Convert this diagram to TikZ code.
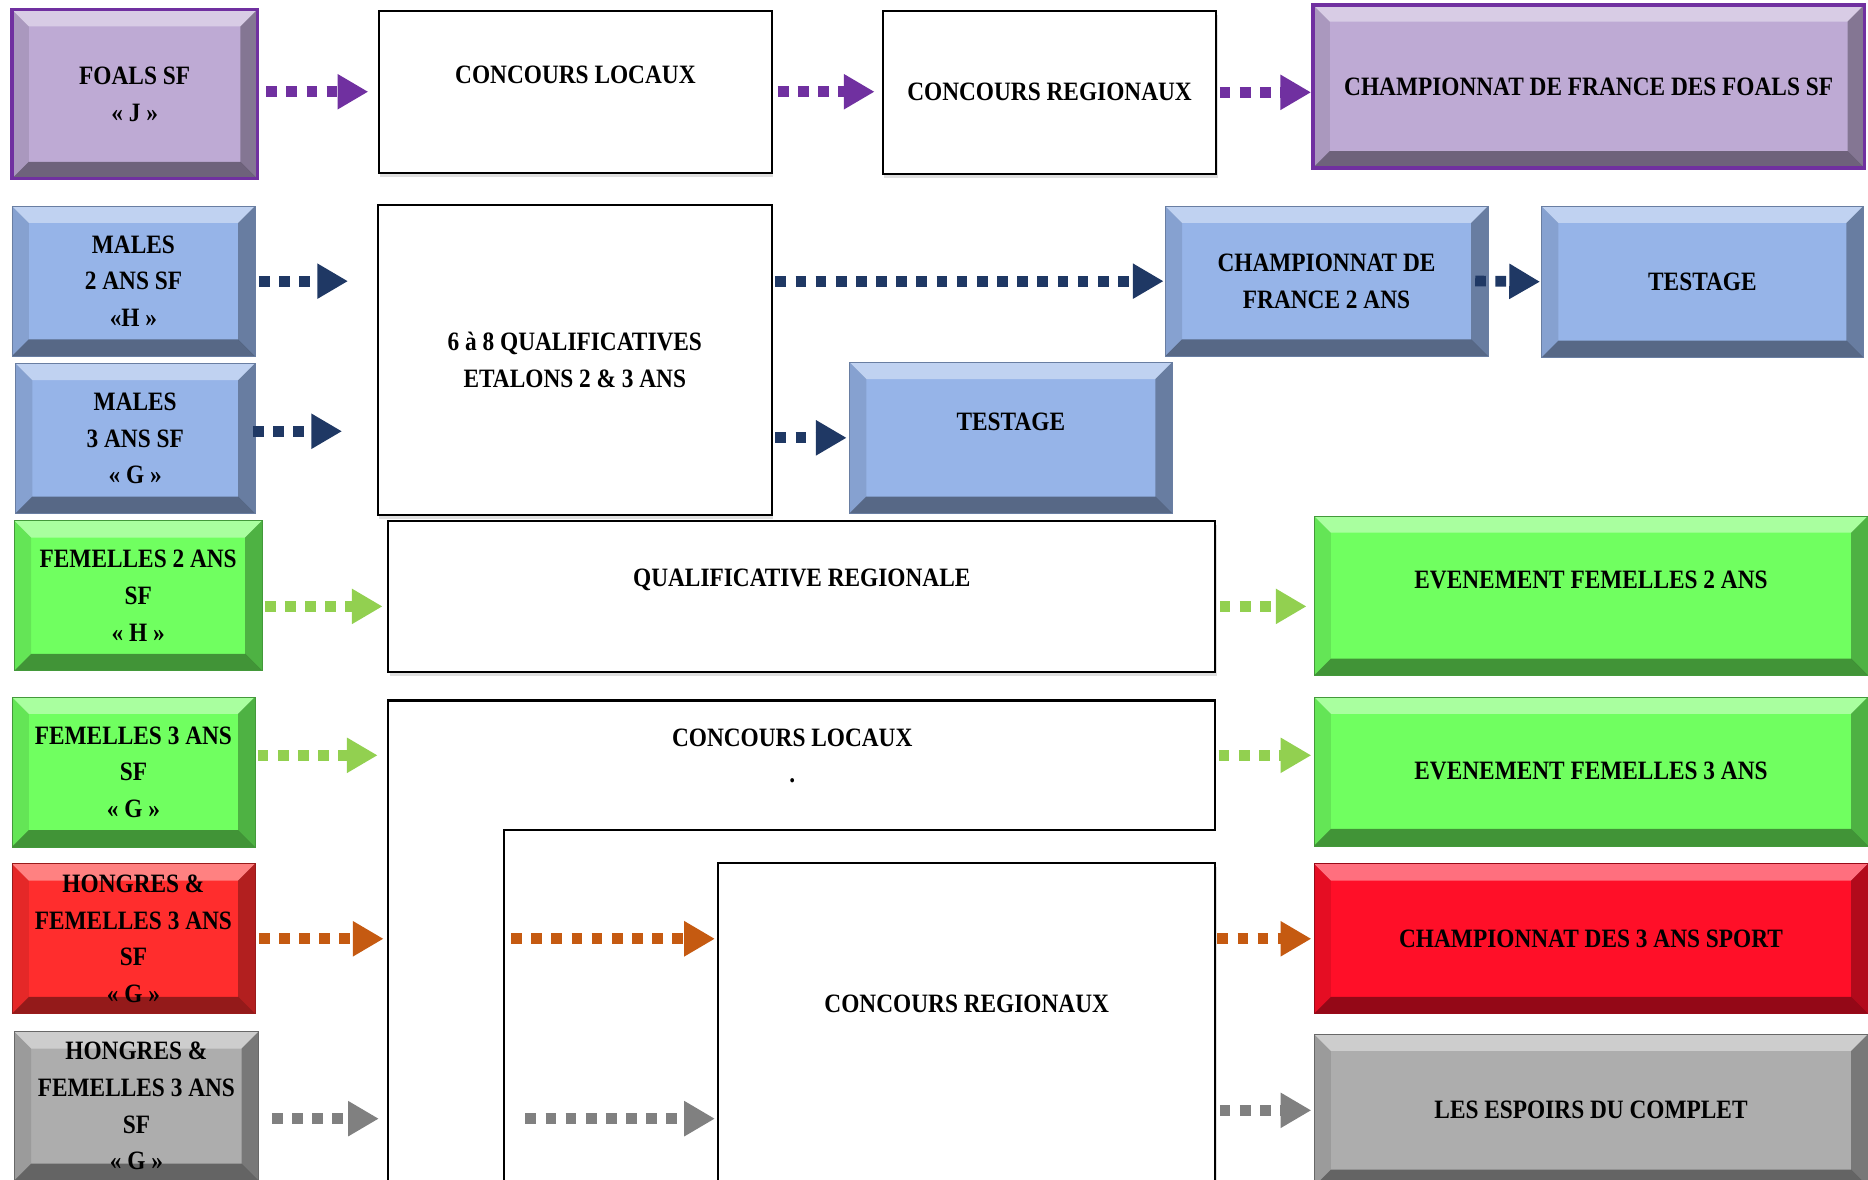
\documentclass[tikz,border=0pt]{standalone}
\usepackage{fontspec}
\setmainfont{Liberation Serif}[FakeStretch=0.88]
\usepackage{xcolor}
\usepackage{tikz}
\usetikzlibrary{positioning,arrows.meta,shadows,calc}
\definecolor{foalpurple}{RGB}{112,48,160}
\definecolor{foalfill}{RGB}{190,170,212}
\definecolor{malefill}{RGB}{150,180,232}
\definecolor{malenavy}{RGB}{31,56,100}
\definecolor{femfill}{RGB}{112,255,96}
\definecolor{femgreen}{RGB}{146,208,80}
\definecolor{hongred}{RGB}{255,45,45}
\definecolor{champred}{RGB}{255,15,40}
\definecolor{hongorange}{RGB}{197,90,17}
\definecolor{hongfill}{RGB}{173,173,173}
\definecolor{honggray}{RGB}{128,128,128}
\newcommand{\boxfont}{\fontsize{15.2}{21}\selectfont\bfseries}
\newcommand{\bevelw}{0.34cm}

\begin{document}
\begin{tikzpicture}[x=0.024cm, y=-0.024cm]
    \tikzstyle{bevel} = [rectangle, align=center, font=\boxfont, path picture={
        \path (path picture bounding box.north west) coordinate (bvnw)
              (path picture bounding box.north east) coordinate (bvne)
              (path picture bounding box.south west) coordinate (bvsw)
              (path picture bounding box.south east) coordinate (bvse);
        \fill[white, opacity=.4] (bvnw) -- (bvne) -- ([shift={(-\bevelw,-\bevelw)}]bvne) -- ([shift={(\bevelw,-\bevelw)}]bvnw) -- cycle;
        \fill[black, opacity=.42] (bvsw) -- (bvse) -- ([shift={(-\bevelw,\bevelw)}]bvse) -- ([shift={(\bevelw,\bevelw)}]bvsw) -- cycle;
        \fill[black, opacity=.1] (bvnw) -- (bvsw) -- ([shift={(\bevelw,\bevelw)}]bvsw) -- ([shift={(\bevelw,-\bevelw)}]bvnw) -- cycle;
        \fill[black, opacity=.3] (bvne) -- (bvse) -- ([shift={(-\bevelw,\bevelw)}]bvse) -- ([shift={(-\bevelw,-\bevelw)}]bvne) -- cycle;
    }]
    \tikzstyle{purplebox} = [bevel, fill=foalfill, draw=foalpurple, line width=0.07cm]
    \tikzstyle{bluebox} = [bevel, fill=malefill, draw=malefill!70!black, line width=0.4pt]
    \tikzstyle{greenbox} = [bevel, fill=femfill, draw=femfill!60!black, line width=0.4pt]
    \tikzstyle{redbox} = [bevel, fill=hongred, draw=hongred!60!black, line width=0.4pt]
    \tikzstyle{champbox} = [bevel, fill=champred, draw=champred!60!black, line width=0.4pt]
    \tikzstyle{graybox} = [bevel, fill=hongfill, draw=hongfill!60!black, line width=0.4pt]
    \tikzstyle{plain} = [rectangle, align=center, font=\boxfont, draw=black, line width=1.2pt, fill=white, drop shadow={opacity=.25, shadow xshift=0.03cm, shadow yshift=-0.08cm}]
    \tikzstyle{frame} = [draw=black, line width=1.2pt]
    \tikzstyle{boxtext} = [font=\boxfont, align=center, inner sep=0pt]
    \tikzstyle{flow} = [line width=0.216cm, dash pattern=on 0.216cm off 0.19cm, -{Triangle[length=0.62cm, width=0.67cm]}]

    \useasboundingbox (0,0) rectangle (1568,990);
    \fill[white] (0,0) rectangle (1568,990);
    \clip (0,0) rectangle (1568,990);

    % Foals
    \node [purplebox, minimum width=4.944cm, minimum height=3.408cm] (foals) at (113,79) {FOALS SF\\« J »};
    \node [plain, minimum width=7.92cm, minimum height=3.264cm] (loc1) at (483,77) {};
    \node [boxtext] (loc1t) at ([yshift=0.336cm]loc1.center) {CONCOURS LOCAUX};
    \node [plain, minimum width=6.72cm, minimum height=3.288cm] (reg1) at (881,77.5) {CONCOURS REGIONAUX};
    \node [purplebox, minimum width=11.112cm, minimum height=3.288cm] (chfoals) at (1333.5,72.5) {CHAMPIONNAT DE FRANCE DES FOALS SF};

    % Males
    \node [bluebox, minimum width=4.896cm, minimum height=3.024cm] (m2) at (112,236) {MALES\\2 ANS SF\\«H »};
    \node [plain, minimum width=7.944cm, minimum height=6.24cm] (qual) at (482.5,302) {6 à 8 QUALIFICATIVES\\ETALONS 2 \& 3 ANS};
    \node [bluebox, minimum width=6.504cm, minimum height=3.024cm] (ch2) at (1113.5,236) {CHAMPIONNAT DE\\FRANCE 2 ANS};
    \node [bluebox, minimum width=6.48cm, minimum height=3.048cm] (test1) at (1429,236.5) {TESTAGE};
    \node [bluebox, minimum width=4.824cm, minimum height=3.024cm] (m3) at (113.5,368) {MALES\\3 ANS SF\\« G »};
    \node [bluebox, minimum width=6.504cm, minimum height=3.048cm] (test2) at (848.5,367.5) {};
    \node [boxtext] (test2t) at ([yshift=0.324cm]test2.center) {TESTAGE};

    % Femelles 2 ans
    \node [greenbox, minimum width=4.992cm, minimum height=3.024cm] (f2) at (116,500) {FEMELLES 2 ANS\\SF\\« H »};
    \node [plain, minimum width=16.656cm, minimum height=3.048cm] (qreg) at (673,500.5) {};
    \node [boxtext] (qregt) at ([yshift=0.324cm]qreg.center) {QUALIFICATIVE REGIONALE};
    \node [greenbox, minimum width=11.16cm, minimum height=3.216cm] (ev2) at (1335.5,500) {};
    \node [boxtext] (ev2t) at ([yshift=0.312cm]ev2.center) {EVENEMENT FEMELLES 2 ANS};

    % Femelles 3 ans
    \node [greenbox, minimum width=4.896cm, minimum height=3.024cm] (f3) at (112,648) {FEMELLES 3 ANS\\SF\\« G »};
    \coordinate (loc2sw) at (326,1000);
    \coordinate (loc2nw) at (326,588);
    \coordinate (loc2ne) at (1020,588);
    \coordinate (loc2se) at (1020,697);
    \coordinate (loc2in) at (423,697);
    \coordinate (loc2inb) at (423,1000);
    \draw [frame] (loc2sw) -- (loc2nw) -- (loc2ne) -- (loc2se) -- (loc2in) -- (loc2inb);
    \node [boxtext] (loc2t) at (665,619) {CONCOURS LOCAUX};
    \node [boxtext] (loc2dot) at (665,655) {.};
    \node [greenbox, minimum width=11.16cm, minimum height=3.0cm] (ev3) at (1335.5,647.5) {EVENEMENT FEMELLES 3 ANS};

    % Hongres
    \node [redbox, minimum width=4.896cm, minimum height=3.024cm] (hr) at (112,788) {HONGRES \&\\FEMELLES 3 ANS\\SF\\« G »};
    \node [plain, minimum width=10.008cm, minimum height=6.624cm] (reg2) at (811.5,862) {};
    \node [boxtext] (reg2t) at ([yshift=0.456cm]reg2.center) {CONCOURS REGIONAUX};
    \node [champbox, minimum width=11.16cm, minimum height=3.024cm] (ch3) at (1335.5,788) {CHAMPIONNAT DES 3 ANS SPORT};
    \node [graybox, minimum width=4.92cm, minimum height=3.0cm] (hg) at (114.5,928.5) {HONGRES \&\\FEMELLES 3 ANS\\SF\\« G »};
    \node [graybox, minimum width=11.16cm, minimum height=3.072cm] (esp) at (1335.5,932) {LES ESPOIRS DU COMPLET};

    \coordinate (m3out) at ([yshift=0.144cm]m3.east);
    \coordinate (f2out) at ([yshift=-0.216cm]f2.east);
    \coordinate (f3out) at ([yshift=0.336cm]f3.east);
    \coordinate (hgout) at ([yshift=-0.252cm]hg.east);

    % Arrows
    \draw [flow, foalpurple, shorten <=0.144cm, shorten >=0.192cm] (loc1.west -| foals.east) -- (loc1.west);
    \draw [flow, foalpurple, shorten <=0.096cm, shorten >=0.144cm] (loc1.east) -- (loc1.east -| reg1.west);
    \draw [flow, foalpurple, shorten <=0.048cm] (reg1.east) -- (reg1.east -| chfoals.west);
    \draw [flow, malenavy, shorten <=0.072cm, shorten >=0.576cm] (m2.east) -- (m2.east -| qual.west);
    \draw [flow, malenavy, shorten <=0.048cm, shorten >=0.024cm] (qual.east |- ch2.west) -- (ch2.west);
    \draw [flow, malenavy, shorten <=-0.264cm, shorten >=0.024cm] (ch2.east) -- (test1.west);
    \draw [flow, malenavy, shorten <=-0.048cm, shorten >=0.696cm] (m3out) -- (m3out -| qual.west);
    \draw [flow, malenavy, shorten <=0.048cm, shorten >=0.048cm] (qual.east |- test2.west) -- (test2.west);
    \draw [flow, femgreen, shorten <=0.048cm, shorten >=0.096cm] (f2out) -- (f2out -| qreg.west);
    \draw [flow, femgreen, shorten <=0.072cm, shorten >=0.144cm] (f2out -| qreg.east) -- (f2out -| ev2.west);
    \draw [flow, femgreen, shorten <=0.048cm, shorten >=0.216cm] (f3out) -- (f3out -| loc2nw);
    \draw [flow, femgreen, shorten <=0.072cm, shorten >=0.048cm] (f3out -| loc2ne) -- (f3out -| ev3.west);
    \draw [flow, hongorange, shorten <=0.072cm, shorten >=0.096cm] (hr.east) -- (hr.east -| loc2nw);
    \draw [flow, hongorange, shorten <=0.144cm, shorten >=0.048cm] (hr.east -| loc2in) -- (hr.east -| reg2.west);
    \draw [flow, hongorange, shorten <=0.024cm, shorten >=0.048cm] (ch3.west -| reg2.east) -- (ch3.west);
    \draw [flow, honggray, shorten <=0.264cm, shorten >=0.192cm] (hgout) -- (hgout -| loc2nw);
    \draw [flow, honggray, shorten <=0.432cm, shorten >=0.048cm] (hgout -| loc2in) -- (hgout -| reg2.west);
    \draw [flow, honggray, shorten <=0.072cm, shorten >=0.048cm] (esp.west -| reg2.east) -- (esp.west);
\end{tikzpicture}
\end{document}
